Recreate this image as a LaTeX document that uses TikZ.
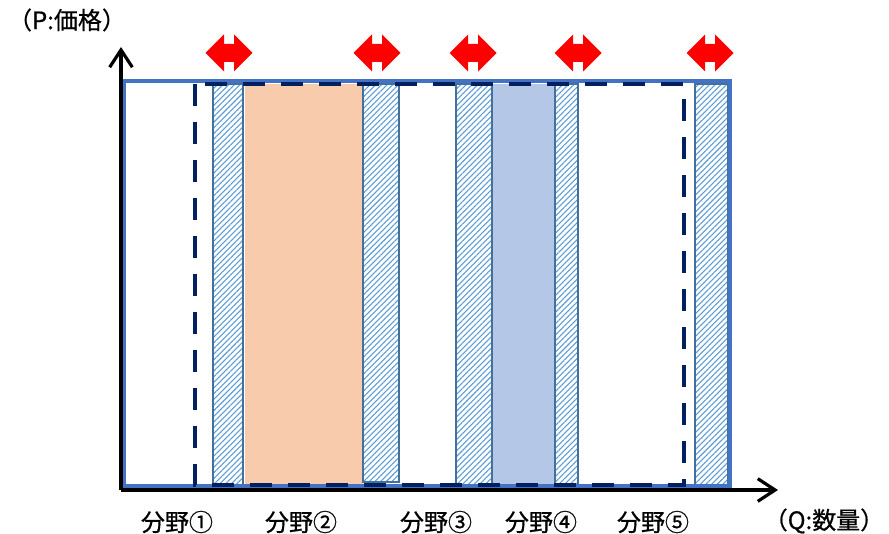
\documentclass[tikz,border=0pt]{standalone}
\usepackage{fontspec}
\setmainfont{Noto Sans CJK JP}[FakeBold=0.6]
\usetikzlibrary{arrows.meta,patterns.meta}
\definecolor{frameblue}{HTML}{4472C4}
\definecolor{dashnavy}{HTML}{002060}
\definecolor{barline}{HTML}{41719C}
\definecolor{hatchblue}{HTML}{5B9BD5}
\definecolor{peach}{HTML}{F8CBAD}
\definecolor{paleblue}{HTML}{B4C7E7}
\tikzset{
  hatchbar/.style={draw=barline, line width=1.5pt,
    pattern={Lines[angle=45,distance=3pt,line width=0.8pt]}, pattern color=hatchblue},
  movearrow/.style={fill=red},
  axis/.style={line width=2.4pt, -{Straight Barb[length=13pt,width=17pt,line width=2.4pt]}},
  lab/.style={font=\fontsize{18}{20}\selectfont, inner sep=0pt}
}
\begin{document}
\begin{tikzpicture}[x=0.75pt,y=-0.75pt]
\useasboundingbox (0,0) rectangle (889,534);
% filled fields
\fill [peach] (245,84) rectangle (363,486);
\fill [paleblue] (492,84) rectangle (555,486);
% hatched strips
\draw [hatchbar] (213,84) rectangle (243,485);
\draw [hatchbar] (363,84) rectangle (399,482);
\draw [hatchbar] (456,84) rectangle (492,485);
\draw [hatchbar] (555,84) rectangle (578,485);
\draw [hatchbar] (695,84) rectangle (728,485);
\draw [frameblue, line width=2.3pt] (124,81) rectangle (730,486);
\draw [dashnavy, line width=3pt, dash pattern=on 16.5pt off 12pt] (195,84) rectangle (684,485);
% axes
\coordinate (o) at (121,490);
\coordinate (ptip) at (121,47);
\coordinate (qtip) at (778,490);
\draw [axis] (o) -- (ptip);
\draw [axis] (o) -- (qtip);
\node [lab] (plab) at (67,20) {（P:価格）};
\node [lab] (qlab) at (824,521) {（Q:数量）};
% red arrows
\foreach \cx in {229,377,473,578,710}
  \fill [movearrow] (\cx-23.5,53) -- (\cx-5,34.5) -- (\cx-5,44) -- (\cx+5,44) -- (\cx+5,34.5)
    -- (\cx+23.5,53) -- (\cx+5,71.5) -- (\cx+5,62) -- (\cx-5,62) -- (\cx-5,71.5) -- cycle;
% field labels
\node [lab] (f1) at (177,522) {分野①};
\node [lab] (f2) at (301,522) {分野②};
\node [lab] (f3) at (436,522) {分野③};
\node [lab] (f4) at (541,522) {分野④};
\node [lab] (f5) at (653,522) {分野⑤};
\end{tikzpicture}
\end{document}
